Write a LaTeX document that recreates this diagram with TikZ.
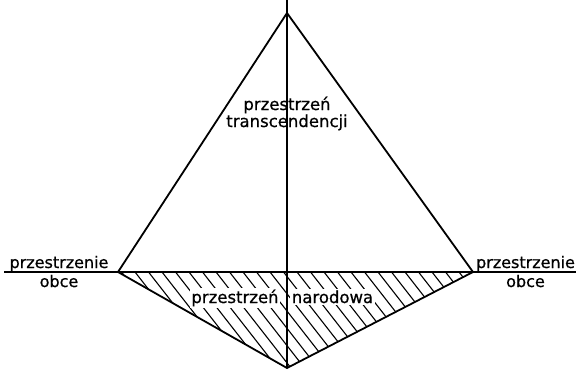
\documentclass[tikz,border=0pt]{standalone}
\usepackage{fontspec}
\setmainfont{DejaVu Sans}[FakeBold=0.7]

\begin{document}
\begin{tikzpicture}[x=1pt, y=-1pt,
    edge/.style={line width=1.8pt, line join=miter},
    axis/.style={line width=1.6pt},
    hatchline/.style={line width=1.1pt},
    lbl/.style={font=\fontsize{16}{18}\selectfont, inner sep=0pt, align=center},
    cutlbl/.style={lbl, font=\fontsize{16.5}{18}\selectfont, fill=white, inner sep=1.5pt, anchor=base}
]
\fill[white] (0,0) rectangle (576,370);
\useasboundingbox (0,0) rectangle (576,370);

% corners of the two triangles
\coordinate (apex) at (287,13);
\coordinate (tick) at (287,0);
\coordinate (west) at (118,272);
\coordinate (east) at (473,272);
\coordinate (foot) at (287,368);
\coordinate (farwest) at (4,272);
\coordinate (fareast) at (576,272);

% hatched lower triangle
\begin{scope}
\clip (west) -- (east) -- (foot) -- cycle;
\foreach \k in {9,...,35}
  \draw[hatchline] (\k*13.5,272) -- ++(100,128);
\end{scope}

\node[cutlbl] (narA) at (235,303) {przestrzeń};
\node[cutlbl] (narB) at (332.5,303) {narodowa};

\draw[edge] (west) -- (apex) -- (east);
\draw[edge] (west) -- (foot) -- (east);
\draw[edge] (farwest) -- (fareast);
\draw[axis] (tick) -- (foot);

\node[lbl, anchor=base, font=\fontsize{16.5}{18}\selectfont] (trans) at (287,127) {przestrzeń\\[-1pt]transcendencji};
\node[lbl, anchor=base] (obceW) at (59,287) {przestrzenie\\[1pt]obce};
\node[lbl, anchor=base] (obceE) at (525.5,287) {przestrzenie\\[1pt]obce};

\end{tikzpicture}
\end{document}
